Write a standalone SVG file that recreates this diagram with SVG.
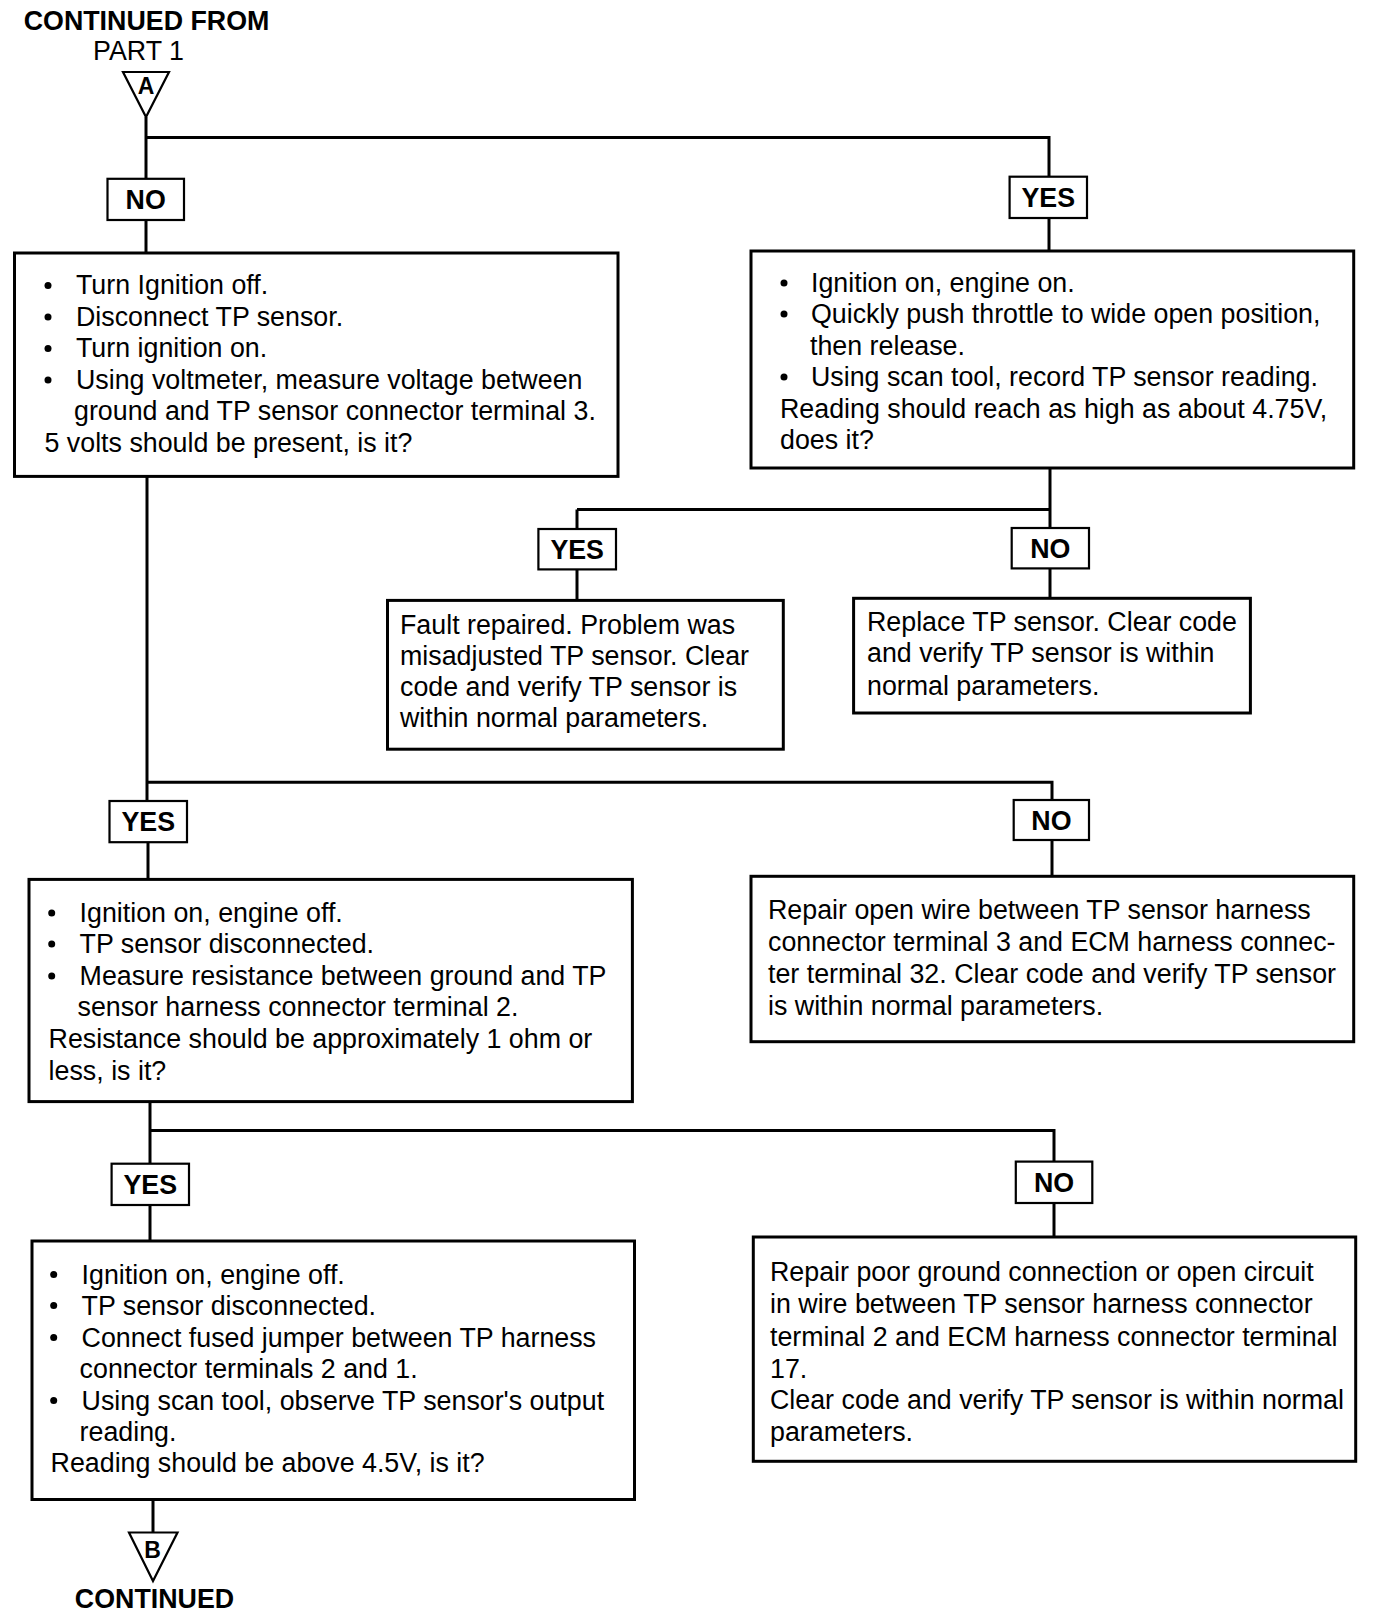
<svg xmlns="http://www.w3.org/2000/svg" width="1392" height="1620" viewBox="0 0 1392 1620">
<style>
.bg{fill:#fff}
.box{fill:#fff;stroke:#000;stroke-width:3}
.lbl{fill:#fff;stroke:#000;stroke-width:2.2}
.tri{fill:#fff;stroke:#000;stroke-width:2.2;stroke-linejoin:miter}
.conn path{fill:none;stroke:#000;stroke-width:3}
text{font-family:"Liberation Sans",Arial,Helvetica,sans-serif;font-size:26.8px;fill:#000}
.b{font-weight:bold}
.c{text-anchor:middle}
.dot{fill:#000}
</style>
<rect class="bg" x="0" y="0" width="1392" height="1620"/>

<g id="connectors" class="conn">
<path d="M146 117 V179"/>
<path d="M146 220 V253"/>
<path d="M146 137.5 H1049 V177"/>
<path d="M1049 218 V251"/>
<path d="M1050 468 V528"/>
<path d="M577 509.5 H1050"/>
<path d="M577 509.5 V529"/>
<path d="M577 569.4 V600.4"/>
<path d="M1050 568.4 V598.3"/>
<path d="M147 476 V801"/>
<path d="M147 782.3 H1052 V800"/>
<path d="M148 842.2 V879.4"/>
<path d="M1052 840 V876.3"/>
<path d="M150 1101.6 V1163.7"/>
<path d="M150 1130.5 H1054 V1161.6"/>
<path d="M150 1205 V1241"/>
<path d="M1054 1203 V1237"/>
<path d="M153 1499.5 V1532.5"/>
</g>

<g id="start">
<text class="b c" x="146.5" y="30">CONTINUED FROM</text>
<text class="c" x="138.5" y="60">PART 1</text>
<polygon class="tri" points="123,72 169,72 146,117"/>
<text class="b c" x="146" y="94" style="font-size:23px">A</text>
</g>

<g id="lbl-no-1"><rect class="lbl" x="107.5" y="178.8" width="76.5" height="41.2"/><text class="b c" x="145.7" y="209">NO</text></g>
<g id="lbl-yes-1"><rect class="lbl" x="1009.6" y="176.7" width="77.4" height="41.3"/><text class="b c" x="1048.3" y="207">YES</text></g>

<g id="box1">
<rect class="box" x="14.5" y="253" width="603.5" height="223.4"/>
<circle class="dot" cx="48" cy="285.5" r="3.5"/>
<circle class="dot" cx="48" cy="317" r="3.5"/>
<circle class="dot" cx="48" cy="348.5" r="3.5"/>
<circle class="dot" cx="48" cy="380" r="3.5"/>
<text x="76" y="294">Turn Ignition off.</text>
<text x="76" y="325.5">Disconnect TP sensor.</text>
<text x="76" y="357">Turn ignition on.</text>
<text x="76" y="388.5">Using voltmeter, measure voltage between</text>
<text x="74" y="420">ground and TP sensor connector terminal 3.</text>
<text x="44.5" y="451.5">5 volts should be present, is it?</text>
</g>

<g id="box2">
<rect class="box" x="751" y="251" width="602.7" height="217"/>
<circle class="dot" cx="784" cy="283" r="3.5"/>
<circle class="dot" cx="784" cy="314" r="3.5"/>
<circle class="dot" cx="784" cy="377" r="3.5"/>
<text x="811" y="291.5">Ignition on, engine on.</text>
<text x="811" y="322.5">Quickly push throttle to wide open position,</text>
<text x="810" y="354.5">then release.</text>
<text x="811" y="385.5">Using scan tool, record TP sensor reading.</text>
<text x="780" y="417.5">Reading should reach as high as about 4.75V,</text>
<text x="780" y="448.5">does it?</text>
</g>

<g id="lbl-yes-2"><rect class="lbl" x="538.4" y="529" width="77.6" height="40.4"/><text class="b c" x="577.2" y="558.7">YES</text></g>
<g id="lbl-no-2"><rect class="lbl" x="1011.7" y="528" width="77.3" height="40.4"/><text class="b c" x="1050.3" y="557.7">NO</text></g>

<g id="box-fault">
<rect class="box" x="387.5" y="600.4" width="395.8" height="148.8"/>
<text x="400" y="633.5">Fault repaired. Problem was</text>
<text x="400" y="664.5">misadjusted TP sensor. Clear</text>
<text x="400" y="696">code and verify TP sensor is</text>
<text x="400" y="727">within normal parameters.</text>
</g>

<g id="box-replace">
<rect class="box" x="853.6" y="598.3" width="396.8" height="114.7"/>
<text x="867" y="631.4">Replace TP sensor. Clear code</text>
<text x="867" y="662.4">and verify TP sensor is within</text>
<text x="867" y="695">normal parameters.</text>
</g>

<g id="lbl-yes-3"><rect class="lbl" x="109.5" y="801" width="77.5" height="41.2"/><text class="b c" x="148.3" y="831">YES</text></g>
<g id="lbl-no-3"><rect class="lbl" x="1013.7" y="800" width="75.3" height="40"/><text class="b c" x="1051.4" y="829.5">NO</text></g>

<g id="box3">
<rect class="box" x="29" y="879.4" width="603.4" height="222.2"/>
<circle class="dot" cx="51.7" cy="913" r="3.5"/>
<circle class="dot" cx="51.7" cy="944" r="3.5"/>
<circle class="dot" cx="51.7" cy="976" r="3.5"/>
<text x="79.6" y="921.8">Ignition on, engine off.</text>
<text x="79.6" y="952.8">TP sensor disconnected.</text>
<text x="79.6" y="984.8">Measure resistance between ground and TP</text>
<text x="77.5" y="1015.8">sensor harness connector terminal 2.</text>
<text x="48.6" y="1047.9">Resistance should be approximately 1 ohm or</text>
<text x="48.6" y="1079.5">less, is it?</text>
</g>

<g id="box4">
<rect class="box" x="751" y="876.3" width="602.7" height="165.4"/>
<text x="768" y="918.7">Repair open wire between TP sensor harness</text>
<text x="768" y="950.7">connector terminal 3 and ECM harness connec-</text>
<text x="768" y="982.8">ter terminal 32. Clear code and verify TP sensor</text>
<text x="768" y="1014.8">is within normal parameters.</text>
</g>

<g id="lbl-yes-4"><rect class="lbl" x="111.6" y="1163.7" width="77.4" height="41.3"/><text class="b c" x="150.3" y="1193.8">YES</text></g>
<g id="lbl-no-4"><rect class="lbl" x="1015.8" y="1161.6" width="76.5" height="41.4"/><text class="b c" x="1054" y="1191.8">NO</text></g>

<g id="box5">
<rect class="box" x="32" y="1241" width="602.5" height="258.5"/>
<circle class="dot" cx="53.7" cy="1274.5" r="3.5"/>
<circle class="dot" cx="53.7" cy="1305.5" r="3.5"/>
<circle class="dot" cx="53.7" cy="1337.5" r="3.5"/>
<circle class="dot" cx="53.7" cy="1400.5" r="3.5"/>
<text x="81.6" y="1283.5">Ignition on, engine off.</text>
<text x="81.6" y="1314.5">TP sensor disconnected.</text>
<text x="81.6" y="1346.5">Connect fused jumper between TP harness</text>
<text x="79.6" y="1378">connector terminals 2 and 1.</text>
<text x="81.6" y="1409.6">Using scan tool, observe TP sensor's output</text>
<text x="79.6" y="1441">reading.</text>
<text x="50.6" y="1472.3">Reading should be above 4.5V, is it?</text>
</g>

<g id="box6">
<rect class="box" x="753.3" y="1237" width="602.4" height="224.3"/>
<text x="770" y="1281.4">Repair poor ground connection or open circuit</text>
<text x="770" y="1313.4">in wire between TP sensor harness connector</text>
<text x="770" y="1345.5">terminal 2 and ECM harness connector terminal</text>
<text x="770" y="1377.5">17.</text>
<text x="770" y="1408.5">Clear code and verify TP sensor is within normal</text>
<text x="770" y="1440.5">parameters.</text>
</g>

<g id="end">
<polygon class="tri" points="129,1532.5 177.5,1532.5 153,1581"/>
<text class="b c" x="152.5" y="1558" style="font-size:23px">B</text>
<text class="b c" x="154.5" y="1608">CONTINUED</text>
</g>
</svg>
